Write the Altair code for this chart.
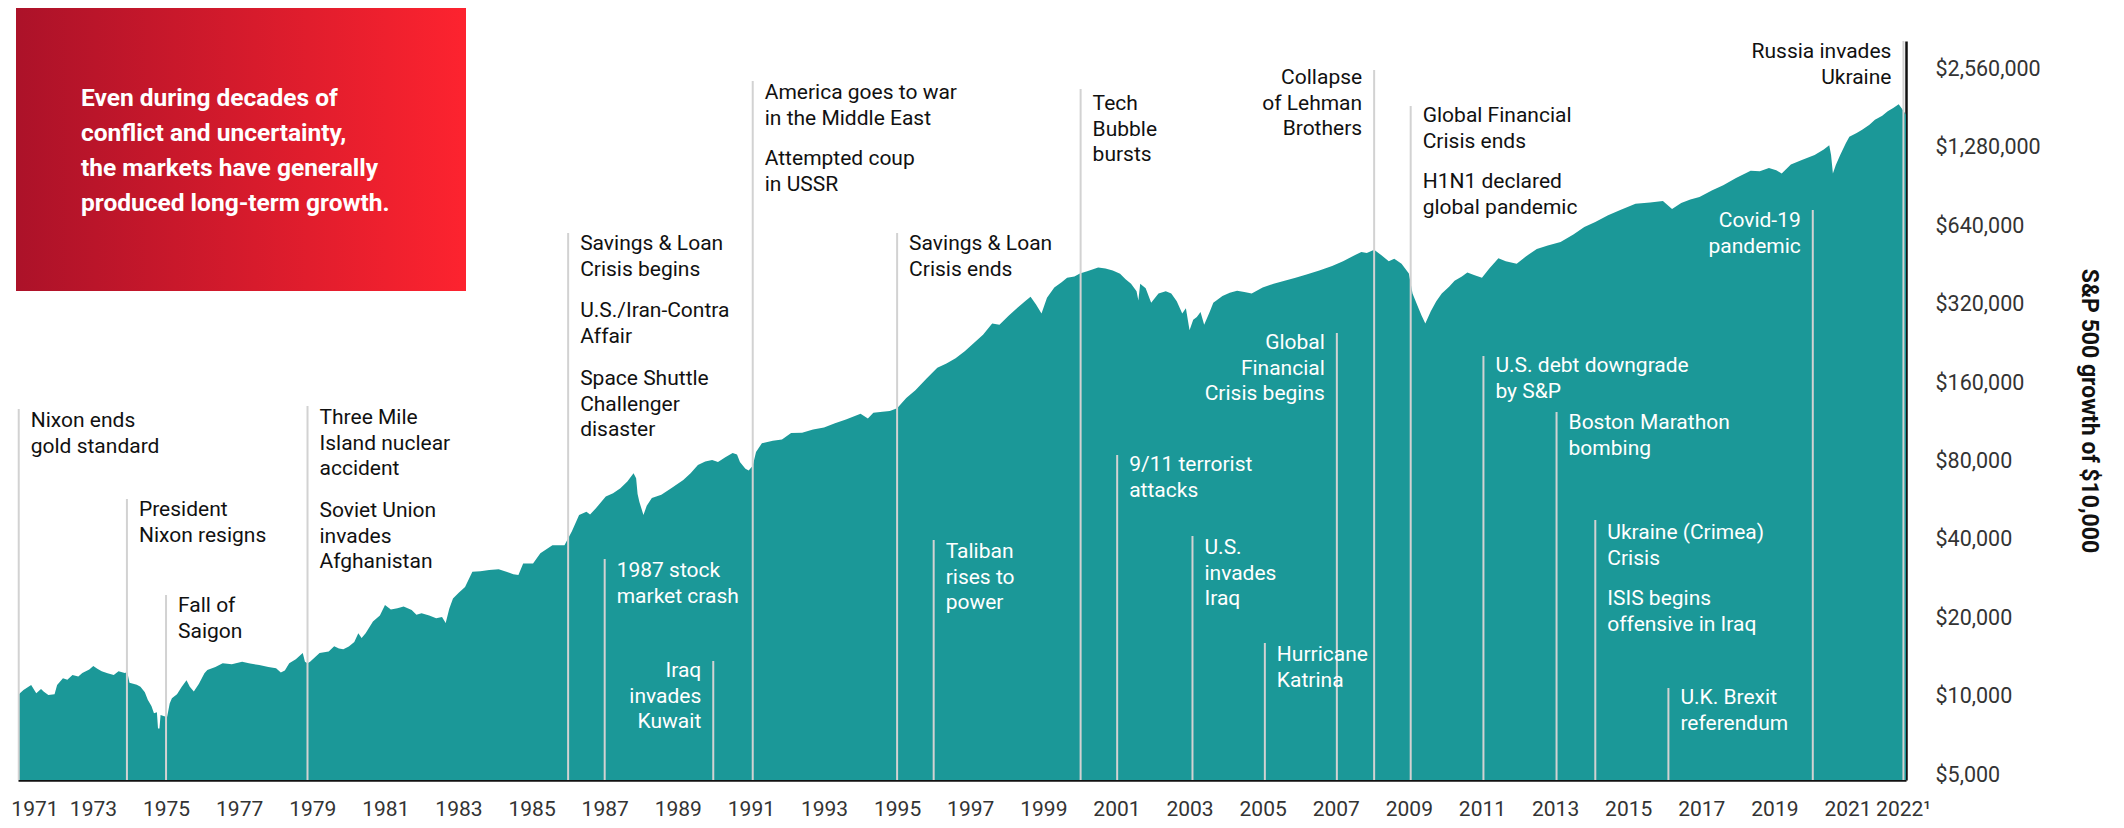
import altair as alt
import pandas as pd

# ---------------- data ----------------
years = [
    1970.95, 1971.10, 1971.31, 1971.45, 1971.58, 1971.65, 1971.78, 1971.95, 1972.02, 1972.18,
    1972.30, 1972.44, 1972.60, 1972.71, 1972.90, 1973.01, 1973.12, 1973.24, 1973.40, 1973.57,
    1973.70, 1973.87, 1973.94, 1974.00, 1974.20, 1974.30, 1974.42, 1974.50, 1974.60, 1974.67,
    1974.75, 1974.78, 1974.82, 1974.85, 1974.95, 1975.03, 1975.10, 1975.16, 1975.30, 1975.43,
    1975.56, 1975.65, 1975.76, 1975.90, 1976.05, 1976.13, 1976.35, 1976.55, 1976.80, 1977.08,
    1977.30, 1977.55, 1977.80, 1978.01, 1978.14, 1978.25, 1978.37, 1978.55, 1978.74, 1978.80,
    1978.87, 1978.94, 1979.20, 1979.45, 1979.60, 1979.73, 1979.85, 1980.00, 1980.15, 1980.26,
    1980.35, 1980.46, 1980.66, 1980.85, 1980.99, 1981.15, 1981.33, 1981.50, 1981.72, 1981.85,
    1981.99, 1982.20, 1982.39, 1982.55, 1982.65, 1982.75, 1982.85, 1983.00, 1983.18, 1983.38,
    1983.60, 1983.84, 1984.10, 1984.31, 1984.50, 1984.64, 1984.77, 1985.04, 1985.24, 1985.57,
    1985.90, 1986.10, 1986.30, 1986.50, 1986.60, 1986.76, 1987.03, 1987.23, 1987.43, 1987.62,
    1987.79, 1987.86, 1987.90, 1987.95, 1988.06, 1988.15, 1988.29, 1988.55, 1988.82, 1989.15,
    1989.35, 1989.55, 1989.75, 1989.94, 1990.10, 1990.30, 1990.50, 1990.62, 1990.70, 1990.85,
    1990.94, 1991.05, 1991.14, 1991.30, 1991.60, 1991.85, 1992.10, 1992.40, 1992.70, 1993.00,
    1993.30, 1993.60, 1994.00, 1994.20, 1994.35, 1994.60, 1994.80, 1995.00, 1995.25, 1995.50,
    1995.80, 1996.10, 1996.35, 1996.60, 1996.85, 1997.10, 1997.35, 1997.60, 1997.80, 1998.05,
    1998.30, 1998.50, 1998.65, 1998.80, 1998.95, 1999.10, 1999.30, 1999.50, 1999.65, 1999.85,
    2000.00, 2000.20, 2000.50, 2000.70, 2000.90, 2001.10, 2001.25, 2001.40, 2001.55, 2001.60,
    2001.65, 2001.80, 2001.95, 2002.15, 2002.35, 2002.50, 2002.65, 2002.80, 2002.90, 2003.00,
    2003.10, 2003.20, 2003.30, 2003.40, 2003.55, 2003.65, 2003.90, 2004.10, 2004.30, 2004.50,
    2004.70, 2005.00, 2005.30, 2005.60, 2005.90, 2006.20, 2006.55, 2006.90, 2007.20, 2007.45,
    2007.70, 2007.85, 2008.05, 2008.25, 2008.45, 2008.60, 2008.80, 2009.00, 2009.10, 2009.25,
    2009.35, 2009.45, 2009.60, 2009.75, 2009.90, 2010.10, 2010.25, 2010.45, 2010.60, 2010.80,
    2011.00, 2011.20, 2011.45, 2011.65, 2011.95, 2012.20, 2012.50, 2012.80, 2013.15, 2013.50,
    2013.80, 2014.10, 2014.45, 2014.80, 2015.20, 2015.60, 2015.95, 2016.20, 2016.45, 2016.70,
    2016.95, 2017.30, 2017.60, 2017.95, 2018.35, 2018.60, 2018.85, 2019.05, 2019.20, 2019.45,
    2019.75, 2020.10, 2020.35, 2020.50, 2020.55, 2020.60, 2020.68, 2020.80, 2020.95, 2021.05,
    2021.25, 2021.40, 2021.60, 2021.75, 2021.95, 2022.10, 2022.25, 2022.40, 2022.50, 2022.60,
]
values = [
    10150, 10600, 11080, 10310, 10700, 10460, 10140, 10200, 11080, 11760,
    11600, 12110, 11950, 12310, 12700, 13110, 12800, 12500, 12300, 12110,
    12500, 12310, 12400, 11300, 11100, 10920, 10400, 9720, 9200, 8630,
    8700, 7550, 7550, 8500, 8400, 8370, 9400, 9850, 10200, 10920,
    11560, 10900, 10460, 11200, 12300, 12640, 13000, 13440, 13300, 13620,
    13400, 13210, 13000, 12850, 12370, 12600, 13440, 13900, 14690, 13600,
    13440, 13620, 14690, 14900, 15600, 15300, 15200, 15560, 16200, 17500,
    16800, 17500, 19410, 20500, 22480, 21600, 21850, 22200, 21510, 20600,
    20900, 20500, 20010, 20200, 19170, 21800, 23800, 25000, 26360, 30170,
    30300, 30630, 30800, 30170, 29500, 29300, 32450, 32450, 35480, 38150,
    38150, 43010, 49820, 51310, 50000, 52840, 58630, 60410, 63140, 66950,
    72080, 69000, 60000, 55880, 49820, 54000, 57830, 59530, 63140, 67870,
    72000, 77500, 80000, 81000, 79600, 83000, 86100, 85000, 79600, 75000,
    73800, 77000, 86950, 94000, 96000, 97000, 102900, 103000, 106000, 108000,
    112000, 116000, 122000, 117000, 123000, 124000, 125000, 128000, 140000, 150000,
    166000, 183000, 190000, 199000, 212000, 228000, 245000, 271000, 268000, 290000,
    312000, 330000, 343000, 320000, 296000, 340000, 372000, 390000, 406000, 410000,
    421000, 430000, 444000, 440000, 433000, 420000, 400000, 385000, 360000, 332000,
    385000, 370000, 325000, 353000, 360000, 353000, 330000, 296000, 310000, 255000,
    280000, 287000, 300000, 268000, 300000, 325000, 345000, 355000, 362000, 358000,
    353000, 372000, 385000, 395000, 406000, 418000, 433000, 450000, 470000, 490000,
    510000, 505000, 520000, 495000, 470000, 480000, 459000, 421000, 353000, 313000,
    290000, 271000, 302000, 330000, 353000, 375000, 395000, 410000, 425000, 415000,
    406000, 440000, 482000, 470000, 459000, 490000, 523000, 540000, 556000, 595000,
    636000, 665000, 705000, 740000, 780000, 790000, 800000, 746000, 785000, 810000,
    828000, 880000, 920000, 980000, 1045000, 1040000, 1070000, 1050000, 1020000, 1105000,
    1150000, 1200000, 1260000, 1310000, 1200000, 1020000, 1100000, 1200000, 1330000, 1410000,
    1460000, 1500000, 1570000, 1640000, 1700000, 1770000, 1820000, 1880000, 1800000, 1720000,
]

x_tick_values = [1971, 1973, 1975, 1977, 1979, 1981, 1983, 1985, 1987, 1989, 1991, 1993,
                 1995, 1997, 1999, 2001, 2003, 2005, 2007, 2009, 2011, 2013, 2015, 2017,
                 2019, 2021, 2022.52]
x_tick_labels = ["1971", "1973", "1975", "1977", "1979", "1981", "1983", "1985", "1987",
                 "1989", "1991", "1993", "1995", "1997", "1999", "2001", "2003", "2005",
                 "2007", "2009", "2011", "2013", "2015", "2017", "2019", "2021", "2022\u00b9"]
y_tick_values = [5000, 10000, 20000, 40000, 80000, 160000, 320000, 640000, 1280000, 2560000]

# event marker lines
rule_years = [1970.97, 1973.93, 1975.0, 1978.87, 1986.0, 1987.0, 1989.97, 1991.05, 1995.0,
              1996.0, 2000.02, 2001.02, 2003.08, 2005.06, 2007.03, 2008.05, 2009.05,
              2011.04, 2013.04, 2014.1, 2016.1, 2020.05, 2022.53]

# annotation texts
ann_years = [1970.97, 1973.93, 1975.0, 1978.87, 1978.87, 1986.0, 1986.0, 1986.0, 1987.0,
             1989.97, 1991.05, 1991.05, 1995.0, 1996.0, 2000.02, 2001.02, 2003.08, 2005.06,
             2007.03, 2008.05, 2009.05, 2009.05, 2011.04, 2013.04, 2014.1, 2014.1, 2016.1,
             2020.05, 2022.53]
ann_texts = [
    "Nixon ends\ngold standard", "President\nNixon resigns", "Fall of\nSaigon",
    "Three Mile\nIsland nuclear\naccident", "Soviet Union\ninvades\nAfghanistan",
    "Savings & Loan\nCrisis begins", "U.S./Iran-Contra\nAffair", "Space Shuttle\nChallenger\ndisaster",
    "1987 stock\nmarket crash", "Iraq\ninvades\nKuwait",
    "America goes to war\nin the Middle East", "Attempted coup\nin USSR",
    "Savings & Loan\nCrisis ends", "Taliban\nrises to\npower", "Tech\nBubble\nbursts",
    "9/11 terrorist\nattacks", "U.S.\ninvades\nIraq", "Hurricane\nKatrina",
    "Global\nFinancial\nCrisis begins", "Collapse\nof Lehman\nBrothers",
    "Global Financial\nCrisis ends", "H1N1 declared\nglobal pandemic",
    "U.S. debt downgrade\nby S&P", "Boston Marathon\nbombing",
    "Ukraine (Crimea)\nCrisis", "ISIS begins\noffensive in Iraq",
    "U.K. Brexit\nreferendum", "Covid-19\npandemic", "Russia invades\nUkraine",
]
ann_side = ["left", "left", "left", "left", "left", "left", "left", "left", "left",
            "right", "left", "left", "left", "left", "left", "left", "left", "left",
            "right", "right", "left", "left", "left", "left", "left", "left", "left",
            "right", "right"]
ann_on_area = [False, False, False, False, False, False, False, False, True,
               True, False, False, False, True, False, True, True, True,
               True, False, False, False, True, True, True, True, True,
               True, False]

box_lines = ["Even during decades of", "conflict and uncertainty,",
             "the markets have generally", "produced long-term growth."]

# ---------------- layout (pixels, plot-relative) ----------------
W, H = 1888, 739
rule_top_px = [368, 458, 554, 365, 192, 518, 620, 40, 192, 499, 48, 414, 495, 602, 292,
               29, 65, 315, 371, 479, 647, 169, 0]
ann_top_px = [369, 458, 554, 366, 459, 192, 259, 327, 519, 619, 41, 107, 192, 500, 52,
              413, 496, 603, 291, 26, 64, 130, 314, 371, 481, 547, 646, 169, 0]

TEAL = "#1b9898"
FONT = "Roboto"

xscale = alt.Scale(domain=[1970.95, 2022.6], nice=False, zero=False)
yscale = alt.Scale(type="log", domain=[4784, 3291000], nice=False)

vals_js = "[" + ",".join(repr(v) for v in x_tick_values) + "]"
labs_js = "[" + ",".join("'" + s + "'" for s in x_tick_labels) + "]"
label_expr = f"{labs_js}[indexof({vals_js}, datum.value)]"

xaxis = alt.Axis(values=x_tick_values, labelExpr=label_expr, title=None, grid=False,
                 ticks=False, domainColor="#111111", domainWidth=2.5, labelFont=FONT,
                 labelFontSize=21, labelColor="#333333", labelPadding=35,
                 labelBaseline="alphabetic", labelFlush=2, labelFlushOffset=9,
                 labelOverlap=False, labelBound=False)
yaxis = alt.Axis(orient="right", values=y_tick_values, format="$,.0f",
                 title="S&P 500 growth of $10,000", titleFont=FONT, titleFontSize=23,
                 titleFontWeight="bold", titleColor="#111111", titleX=182, titleY=H / 2,
                 titleAngle=90, titleBaseline="middle", titleAlign="center",
                 grid=False, ticks=False, domainColor="#111111", domainWidth=2.5,
                 labelFont=FONT, labelFontSize=21.5, labelColor="#333333", labelPadding=29,
                 labelOverlap=False, labelBound=False)

series = pd.DataFrame({"year": years, "value": values})
rules_df = pd.DataFrame({"year": rule_years, "top": rule_top_px})
ann_df = pd.DataFrame({
    "year": ann_years, "text": ann_texts, "side": ann_side,
    "tone": ["#ffffff" if a else "#111111" for a in ann_on_area], "top": ann_top_px,
})

one = pd.DataFrame({"k": [0]})
box = alt.Chart(one).mark_rect(
    color=alt.LinearGradient(
        gradient="linear",
        stops=[alt.GradientStop(color="#ac1229", offset=0),
               alt.GradientStop(color="#fd232f", offset=1)],
        x1=0, x2=1, y1=0, y2=0)
).encode(x=alt.value(-2), x2=alt.value(448), y=alt.value(-34), y2=alt.value(250))

box_text = alt.Chart(one).mark_text(
    text=box_lines, align="left", baseline="top", font=FONT, fontSize=24.5,
    fontWeight="bold", color="#ffffff", lineHeight=35
).encode(x=alt.value(63), y=alt.value(46))

area = alt.Chart(series).mark_area(color=TEAL, interpolate="linear").encode(
    x=alt.X("year:Q", scale=xscale, axis=xaxis),
    y=alt.Y("value:Q", scale=yscale, axis=yaxis, stack=None),
    y2=alt.value(H),
)

rules = alt.Chart(rules_df).mark_rule(color="#d2d2d2", strokeWidth=2).encode(
    x=alt.X("year:Q", scale=xscale, axis=xaxis),
    y=alt.Y("top:Q", scale=None, axis=None),
    y2=alt.value(H),
)

def ann_layer(side, dx):
    return alt.Chart(ann_df).transform_filter(
        alt.datum.side == side
    ).mark_text(
        align=side, baseline="top", dx=dx, font=FONT, fontSize=21, lineBreak="\n",
        lineHeight=25.7
    ).encode(
        x=alt.X("year:Q", scale=xscale, axis=xaxis),
        y=alt.Y("top:Q", scale=None, axis=None),
        text="text:N",
        color=alt.Color("tone:N", scale=None, legend=None),
    )

chart = alt.layer(
    box, box_text, area, rules, ann_layer("left", 12), ann_layer("right", -12)
).properties(
    width=W, height=H,
    padding={"left": 10, "top": 33, "right": 210, "bottom": 40},
    autosize=alt.AutoSizeParams(type="none"),
    background="#ffffff",
).configure_view(stroke=None)

chart.save("out.html", embed_options={"renderer": "svg", "actions": False})
